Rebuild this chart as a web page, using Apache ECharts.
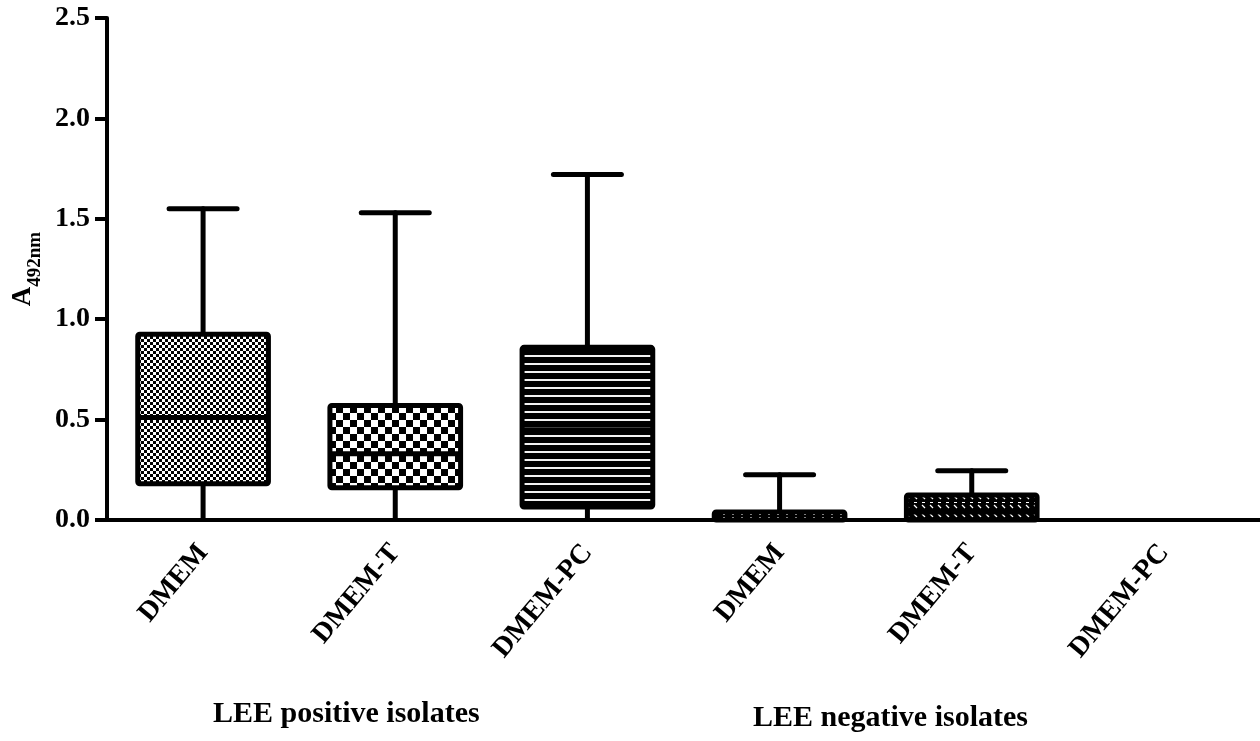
<!DOCTYPE html>
<html>
<head>
<meta charset="utf-8">
<script src="https://cdn.jsdelivr.net/npm/echarts@6/dist/echarts.min.js"></script>
<style>
html,body{margin:0;padding:0;background:#fff;}
#chart{width:1260px;height:741px;}
</style>
</head>
<body>
<div id="chart"></div>
<script>
// ---- data ----
var categories = ['DMEM', 'DMEM-T', 'DMEM-PC', 'DMEM', 'DMEM-T', 'DMEM-PC'];
var groupLabels = ['LEE positive isolates', 'LEE negative isolates'];
var whiskerMin = [0, 0, 0, 0, 0, 0];
var q1Values   = [0.18, 0.16, 0.065, 0, 0, 0];
var medians    = [0.51, 0.33, 0.45, 0, 0.04, 0];
var q3Values   = [0.925, 0.57, 0.86, 0.04, 0.125, 0];
var whiskerMax = [1.55, 1.53, 1.72, 0.225, 0.245, 0];
var yTicks = [0, 0.5, 1.0, 1.5, 2.0, 2.5];

// ---- fill patterns ----
function makeCanvas(w, h, draw) {
  var c = document.createElement('canvas');
  c.width = w; c.height = h;
  var ctx = c.getContext('2d');
  draw(ctx, w, h);
  return c;
}
var patterns = [
  makeCanvas(6, 6, function (ctx) { // fine checker
    ctx.fillStyle = '#fff'; ctx.fillRect(0, 0, 6, 6);
    ctx.fillStyle = '#000'; ctx.fillRect(0, 0, 3, 3); ctx.fillRect(3, 3, 3, 3);
  }),
  makeCanvas(14, 14, function (ctx) { // coarse checker
    ctx.fillStyle = '#fff'; ctx.fillRect(0, 0, 14, 14);
    ctx.fillStyle = '#000'; ctx.fillRect(0, 0, 7, 7); ctx.fillRect(7, 7, 7, 7);
  }),
  makeCanvas(8, 8, function (ctx) { // horizontal stripes
    ctx.fillStyle = '#000'; ctx.fillRect(0, 0, 8, 8);
    ctx.fillStyle = '#f2f2f2'; ctx.fillRect(0, 3, 8, 2);
  }),
  makeCanvas(9, 3, function (ctx) { // dots
    ctx.fillStyle = '#000'; ctx.fillRect(0, 0, 9, 3);
    ctx.fillStyle = '#fff'; ctx.fillRect(3, 1, 2, 1);
  }),
  makeCanvas(8, 9, function (ctx) { // diagonal hatch + dashes
    ctx.fillStyle = '#000'; ctx.fillRect(0, 0, 8, 9);
    ctx.strokeStyle = '#fff'; ctx.lineWidth = 1.3;
    ctx.beginPath(); ctx.moveTo(2, 1); ctx.lineTo(5, 4); ctx.stroke();
    ctx.fillStyle = '#fff'; ctx.fillRect(2, 7, 3, 1);
  }),
  makeCanvas(4, 4, function (ctx) {
    ctx.fillStyle = '#000'; ctx.fillRect(0, 0, 4, 4);
  })
];

var seriesData = categories.map(function (c, i) {
  return [i, whiskerMin[i], q1Values[i], medians[i], q3Values[i], whiskerMax[i]];
});

var font = 'Liberation Serif';
var chart = echarts.init(document.getElementById('chart'));
chart.setOption({
  animation: false,
  backgroundColor: '#fff',
  grid: { left: 107, top: 18, width: 1154, bottom: 221, containLabel: false },
  xAxis: {
    type: 'category',
    data: categories,
    boundaryGap: true,
    axisLine: { lineStyle: { color: '#000', width: 4 } },
    axisTick: { alignWithLabel: true, length: 13, lineStyle: { color: '#000', width: 4 } },
    axisLabel: { rotate: 50, margin: 28, interval: 0, color: '#000', fontFamily: font, fontWeight: 'bold', fontSize: 28 },
    splitLine: { show: false }
  },
  yAxis: {
    type: 'value',
    min: 0, max: 2.5, interval: 0.5,
    name: '{a|A}{s|492nm}',
    nameLocation: 'middle',
    nameRotate: 90,
    nameGap: 66,
    nameTextStyle: {
      color: '#000', fontFamily: font, fontWeight: 'bold',
      rich: {
        a: { fontSize: 27, fontFamily: font, fontWeight: 'bold', color: '#000', verticalAlign: 'bottom', lineHeight: 30 },
        s: { fontSize: 19, fontFamily: font, fontWeight: 'bold', color: '#000', verticalAlign: 'bottom', lineHeight: 30, padding: [0, 0, -8, 0] }
      }
    },
    axisLine: { show: true, lineStyle: { color: '#000', width: 4 } },
    axisTick: { show: true, length: 12, lineStyle: { color: '#000', width: 4 } },
    axisLabel: {
      margin: 17, color: '#000', fontFamily: font, fontWeight: 'bold', fontSize: 28,
      formatter: function (v) { return v.toFixed(1); }
    },
    splitLine: { show: false }
  },
  graphic: [
    { type: 'text', left: 213, top: 699, style: { text: groupLabels[0], fill: '#000', font: 'bold 30px "Liberation Serif"' } },
    { type: 'text', left: 753, top: 703, style: { text: groupLabels[1], fill: '#000', font: 'bold 30px "Liberation Serif"' } }
  ],
  series: [{
    type: 'custom',
    data: seriesData,
    clip: false,
    z: 1,
    renderItem: function (params, api) {
      var idx = api.value(0);
      var vals = [api.value(1), api.value(2), api.value(3), api.value(4), api.value(5)];
      if (vals[4] === 0) return { type: 'group', children: [] };
      var pMin = api.coord([idx, vals[0]]);
      var pQ1 = api.coord([idx, vals[1]]);
      var pMed = api.coord([idx, vals[2]]);
      var pQ3 = api.coord([idx, vals[3]]);
      var pMax = api.coord([idx, vals[4]]);
      var x = pMin[0];
      var boxW = api.size([1, 0])[0] * 0.68;
      var capW = 68;
      var lw = 5;
      var ls = { stroke: '#000', lineWidth: lw, lineCap: 'round' };
      var children = [
        { type: 'line', shape: { x1: x, y1: pMax[1], x2: x, y2: pQ3[1] }, style: ls },
        { type: 'line', shape: { x1: x - capW / 2, y1: pMax[1], x2: x + capW / 2, y2: pMax[1] }, style: ls },
        { type: 'line', shape: { x1: x, y1: pQ1[1], x2: x, y2: pMin[1] }, style: { stroke: '#000', lineWidth: lw } },
        {
          type: 'rect',
          shape: { x: x - boxW / 2, y: pQ3[1], width: boxW, height: pQ1[1] - pQ3[1], r: 2 },
          style: { fill: { image: patterns[idx], repeat: 'repeat' }, stroke: '#000', lineWidth: lw, lineJoin: 'round' }
        }
      ];
      if (vals[2] > vals[1]) {
        children.push({ type: 'line', shape: { x1: x - boxW / 2, y1: pMed[1], x2: x + boxW / 2, y2: pMed[1] }, style: { stroke: '#000', lineWidth: lw } });
      }
      return { type: 'group', children: children };
    }
  }]
});
</script>
</body>
</html>
